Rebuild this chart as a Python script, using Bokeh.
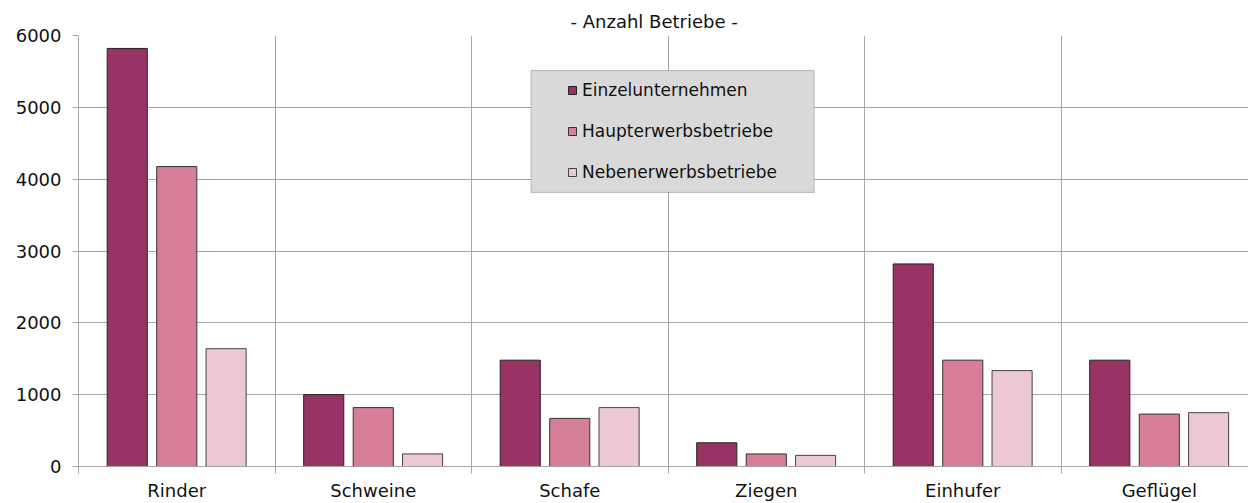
from bokeh.plotting import figure
from bokeh.models import (Range1d, FixedTicker, ColumnDataSource, Legend, LegendItem,
                          BoxAnnotation)
from bokeh.transform import dodge
from bokeh.embed import file_html
from bokeh.resources import INLINE

categories = ["Rinder", "Schweine", "Schafe", "Ziegen", "Einhufer", "Geflügel"]
series_names = ["Einzelunternehmen", "Haupterwerbsbetriebe", "Nebenerwerbsbetriebe"]
einzel = [5820, 1000, 1480, 330, 2820, 1480]
haupt = [4175, 820, 670, 175, 1480, 730]
neben = [1640, 175, 820, 155, 1335, 750]
y_ticks = [0, 1000, 2000, 3000, 4000, 5000, 6000]
title_text = "- Anzahl Betriebe -"

colors = ["#993366", "#D77F99", "#EDC8D2"]
outlines = ["#222222", "#333333", "#444444"]
FONT = "DejaVu Sans"

n = len(categories)
centers = [i + 0.5 for i in range(n)]
bounds = [i for i in range(n + 1)]

p = figure(width=1248, height=503, output_backend="svg", toolbar_location=None,
           x_range=Range1d(0, 5.954), y_range=Range1d(0, 6000),
           min_border_left=78, min_border_right=0, min_border_top=35, min_border_bottom=36)
p.outline_line_color = None
p.background_fill_color = "white"
p.border_fill_color = "white"

p.title.text = title_text
p.title.align = "left"
p.title.text_font = FONT
p.title.text_font_size = "18px"
p.title.text_font_style = "normal"
p.title.text_color = "#111111"
p.title.offset = 492
p.title.standoff = 8

src = ColumnDataSource(dict(x=centers, e=einzel, h=haupt, nb=neben))
offsets = [-0.252, 0.0, 0.251]
renderers = []
for key, off, col, oc in zip(["e", "h", "nb"], offsets, colors, outlines):
    r = p.vbar(x=dodge("x", off), top=key, width=0.204, source=src,
               fill_color=col, line_color=oc, line_width=1)
    renderers.append(r)

# grids
p.xgrid.ticker = FixedTicker(ticks=bounds)
p.xgrid.grid_line_color = "#A6A6A6"
p.ygrid.grid_line_color = "#A6A6A6"

# x axis
xa = p.xaxis[0]
xa.ticker = FixedTicker(ticks=centers, minor_ticks=bounds)
xa.major_label_overrides = {c: name for c, name in zip(centers, categories)}
xa.major_tick_out = 0
xa.major_tick_in = 0
xa.minor_tick_out = 7
xa.minor_tick_in = 0
xa.minor_tick_line_color = "#A6A6A6"
xa.axis_line_color = "#A6A6A6"
xa.major_label_standoff = 6
xa.major_label_text_font = FONT
xa.major_label_text_font_size = "18px"
xa.major_label_text_color = "#111111"

ya = p.yaxis[0]
ya.ticker = FixedTicker(ticks=y_ticks)
ya.axis_line_color = "#A6A6A6"
ya.major_tick_line_color = "#A6A6A6"
ya.major_tick_out = 6
ya.major_tick_in = 0
ya.minor_tick_line_color = None
ya.major_label_standoff = 11
ya.major_label_text_font = FONT
ya.major_label_text_font_size = "18px"
ya.major_label_text_color = "#111111"

# legend box
box = BoxAnnotation(left=2.303, right=3.744, bottom=3816, top=5512,
                    fill_color="#D9D9D9", fill_alpha=1.0,
                    line_color="#404040", line_width=1, level="overlay")
p.add_layout(box)

legend = Legend(items=[LegendItem(label=s, renderers=[r]) for s, r in zip(series_names, renderers)],
                location=(489, 284), orientation="vertical",
                background_fill_alpha=0, border_line_color=None,
                padding=0, margin=0, spacing=21, glyph_width=10, glyph_height=10,
                label_height=20, label_standoff=5,
                label_text_font=FONT, label_text_font_size="17px",
                label_text_color="#111111", level="overlay")
p.add_layout(legend)

open("out.html", "w").write(file_html(p, INLINE))
